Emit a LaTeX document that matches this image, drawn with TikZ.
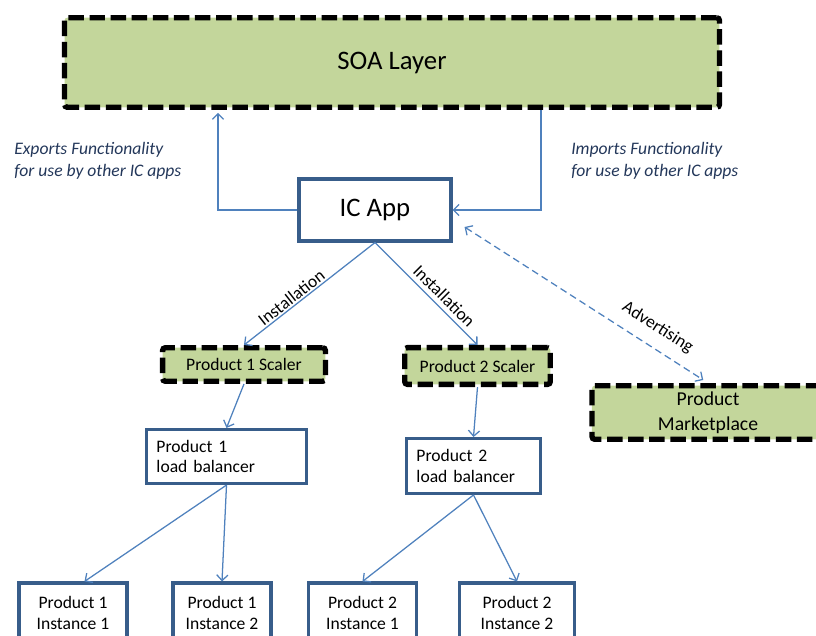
\documentclass[tikz,border=0pt]{standalone}
\usepackage{fontspec}
\setmainfont{Carlito}
\usetikzlibrary{arrows.meta,calc}
\definecolor{layergreen}{RGB}{195,214,155}
\definecolor{boxblue}{RGB}{56,93,138}
\definecolor{linkblue}{RGB}{79,129,189}
\definecolor{notetext}{RGB}{35,55,90}
\newcommand{\layerfont}{\fontsize{19}{23}\selectfont}
\newcommand{\marketfont}{\fontsize{14}{17.5}\selectfont}
\newcommand{\boxfont}{\fontsize{12.5}{14.5}\selectfont}
\tikzstyle{layer}=[rectangle,draw=black,fill=layergreen,line width=3.8pt,
  dash pattern=on 11pt off 4pt,rounded corners=2pt]
\tikzstyle{app}=[rectangle,draw=boxblue,fill=white,line width=2.2pt]
\tikzstyle{link}=[draw=linkblue,line width=0.9pt]
\tikzstyle{note}=[text=notetext,font=\itshape\fontsize{12.5}{15.5}\selectfont,align=left]
\tikzset{>={Straight Barb[length=4pt,width=8pt]}}
\begin{document}
\begin{tikzpicture}[x=0.025cm,y=-0.025cm,inner sep=1mm]
  \clip (0,0) rectangle (816,636);
  \node[layer,minimum width=16.37cm,minimum height=2.24cm,font=\layerfont]
    (soa layer) at (392,62.5) {SOA Layer};
  \node[app,minimum width=3.8cm,minimum height=1.55cm,font=\layerfont]
    (ic app) at (375,210) {IC App};

  \node[note,anchor=west] (exports) at (10,161) {Exports Functionality\\for use by other IC apps};
  \node[note,anchor=west] (imports) at (567,161) {Imports Functionality\\for use by other IC apps};

  \node[layer,minimum width=4.07cm,minimum height=0.84cm,font=\boxfont]
    (1 scaler) at (244,364.5) {Product 1 Scaler};
  \node[layer,minimum width=3.64cm,minimum height=0.92cm,font=\boxfont]
    (2 scaler) at (477.5,366) {Product 2 Scaler};
  \node[layer,minimum width=5.8cm,minimum height=1.34cm,font=\marketfont,align=center]
    (marketplace) at (708,412.5) {Product\\Marketplace};

  \node[app,minimum height=1.35cm,inner xsep=0.25cm,text width=3.5cm,align=left,font=\boxfont]
    (1 balancer) at (226.5,456.5) {Product 1\\load balancer};
  \node[app,minimum height=1.37cm,inner xsep=0.25cm,text width=2.85cm,align=left,font=\boxfont]
    (2 balancer) at (473.5,466) {Product 2\\load balancer};

  \node[app,minimum width=2.7cm,minimum height=1.5cm,align=center,font=\boxfont]
    (1 instance 1) at (73,613) {Product 1\\Instance 1};
  \node[app,minimum width=2.45cm,minimum height=1.5cm,align=center,font=\boxfont]
    (1 instance 2) at (222,613) {Product 1\\Instance 2};
  \node[app,minimum width=2.72cm,minimum height=1.5cm,align=center,font=\boxfont]
    (2 instance 1) at (362.5,613) {Product 2\\Instance 1};
  \node[app,minimum width=2.87cm,minimum height=1.5cm,align=center,font=\boxfont]
    (2 instance 2) at (517,613) {Product 2\\Instance 2};

  \draw[link,->,shorten >=2pt] (ic app.west) -| ($(soa layer.south)+(-174,0)$);
  \draw[link,->] ($(soa layer.south)+(149,0)$) |- (ic app.east);

  \foreach \x/\gap in {1/0pt,2/2pt} {
    \draw[link,->] (ic app.south) -- (\x \space scaler.north)
      node[pos=0.6,sloped,above=\gap,inner sep=1pt,font=\boxfont] {Installation};
    \draw[link,->] (\x \space scaler.south) -- (\x \space balancer.north);
  }
  \draw[link,->] (1 balancer.south) -- (1 instance 1.70);
  \draw[link,->] (1 balancer.south) -- (1 instance 2.north);
  \draw[link,->] (2 balancer.south) -- (2 instance 1.north);
  \draw[link,->] (2 balancer.south) -- (2 instance 2.north);

  \coordinate (advert) at ($(ic app.east)+(12,17)$);
  \draw[link,<->,dash pattern=on 5pt off 3pt,shorten >=4pt] (advert) -- (marketplace.north)
    node[pos=0.75,sloped,above=7pt,inner sep=1pt,font=\boxfont] {Advertising};
\end{tikzpicture}
\end{document}
